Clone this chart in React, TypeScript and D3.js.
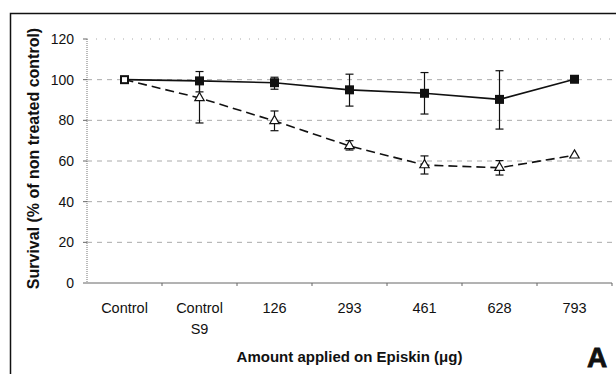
import React from "react";
import * as d3 from "d3";

const categories = ["Control", "Control\nS9", "126", "293", "461", "628", "793"];
const solidValues = [100, 99.4, 98.5, 95, 93.3, 90.3, 100.2];
const solidErrLow = [100, 94, 95.3, 87, 83.1, 75.7, 100.2];
const solidErrHigh = [100, 104, 101.2, 102.7, 103.5, 104.4, 100.2];
const dashedValues = [100, 91, 79.7, 67.4, 58, 56.7, 62.8];
const dashedErrLow = [100, 78.7, 74.9, 65.4, 53.6, 53.1, 62.8];
const dashedErrHigh = [100, 98, 84.6, 70, 62.5, 60.2, 62.8];
const yTicks = [0, 20, 40, 60, 80, 100, 120];

const W = 616, H = 374;
const left = 87, right = 612, top = 39, bottom = 283;
const FONT = "Liberation Sans, Arial, sans-serif";

export default function App() {
  const x = d3.scaleBand<string>().domain(categories).range([left, right]);
  const y = d3.scaleLinear().domain([0, 120]).range([bottom, top]);
  const cx = (i: number) => (x(categories[i]) as number) + x.bandwidth() / 2;
  const line = d3.line<number>().x((_, i) => cx(i)).y((d) => y(d));
  const tri = d3.symbol().type(d3.symbolTriangle).size(38)();
  const cap = 4;
  const same = (i: number) => Math.abs(solidValues[i] - dashedValues[i]) < 0.5;

  return (
    <svg width={W} height={H} style={{ position: "absolute", left: 0, top: 0, background: "#fff" }}>
      <rect x={10.5} y={13.5} width={640} height={400} fill="none" stroke="#111" strokeWidth={1.5} />
      {yTicks.filter((t) => t > 0).map((t) => (
        <line key={t} x1={left} x2={right} y1={y(t)} y2={y(t)} stroke="#aaa" strokeWidth={1}
          strokeDasharray={t === 120 ? "1,8" : "5,5"} />
      ))}
      <line x1={left} x2={left} y1={top} y2={bottom} stroke="#777" strokeWidth={1} strokeDasharray="1,1" />
      <line x1={left} x2={right} y1={bottom} y2={bottom} stroke="#666" strokeWidth={1} />
      {yTicks.map((t) => (
        <g key={t}>
          <line x1={left - 4} x2={left} y1={y(t)} y2={y(t)} stroke="#666" />
          <text x={74} y={y(t)} dy="0.36em" textAnchor="end" fontFamily={FONT} fontSize={14} fill="#111">{t}</text>
        </g>
      ))}
      {categories.map((c, i) => (
        <g key={c}>
          <line x1={(x(c) as number) + x.bandwidth()} x2={(x(c) as number) + x.bandwidth()} y1={bottom} y2={bottom + 3} stroke="#666" />
          {c.split("\n").map((s, j) => (
            <text key={j} x={cx(i)} y={313 + j * 21} textAnchor="middle" fontFamily={FONT} fontSize={14.5} fill="#111">{s}</text>
          ))}
        </g>
      ))}
      <text transform={`translate(39,158.5) rotate(-90)`} textAnchor="middle" fontFamily={FONT}
        fontSize={16} fontWeight="bold" fill="#111">Survival (% of non treated control)</text>
      <text x={349.5} y={362} textAnchor="middle" fontFamily={FONT} fontSize={15} fontWeight="bold" fill="#111">Amount applied on Episkin (μg)</text>
      <text x={597} y={367} textAnchor="middle" fontFamily={FONT} fontSize={28} fontWeight="bold" fill="#111" stroke="#111" strokeWidth={0.8}>A</text>

      {categories.map((c, i) => (
        <g key={"e" + i} stroke="#111" strokeWidth={1.2}>
          {solidErrHigh[i] !== solidErrLow[i] && (
            <>
              <line x1={cx(i)} x2={cx(i)} y1={y(solidErrHigh[i])} y2={y(solidErrLow[i])} />
              <line x1={cx(i) - cap} x2={cx(i) + cap} y1={y(solidErrHigh[i])} y2={y(solidErrHigh[i])} />
              <line x1={cx(i) - cap} x2={cx(i) + cap} y1={y(solidErrLow[i])} y2={y(solidErrLow[i])} />
            </>
          )}
          {dashedErrHigh[i] !== dashedErrLow[i] && (
            <>
              <line x1={cx(i)} x2={cx(i)} y1={y(dashedErrHigh[i])} y2={y(dashedErrLow[i])} />
              <line x1={cx(i) - cap} x2={cx(i) + cap} y1={y(dashedErrHigh[i])} y2={y(dashedErrHigh[i])} />
              <line x1={cx(i) - cap} x2={cx(i) + cap} y1={y(dashedErrLow[i])} y2={y(dashedErrLow[i])} />
            </>
          )}
        </g>
      ))}
      <path d={line(dashedValues) || ""} fill="none" stroke="#111" strokeWidth={1.6} strokeDasharray="9,5" />
      <path d={line(solidValues) || ""} fill="none" stroke="#111" strokeWidth={1.6} />
      {dashedValues.map((v, i) => !same(i) && (
        <path key={"t" + i} d={tri || ""} transform={`translate(${cx(i)},${y(v)})`} fill="#fff" stroke="#111" strokeWidth={1.2} />
      ))}
      {solidValues.map((v, i) => (
        same(i)
          ? <rect key={"s" + i} x={cx(i) - 3.5} y={y(v) - 3.5} width={7} height={7} fill="#fff" stroke="#111" strokeWidth={2} />
          : <rect key={"s" + i} x={cx(i) - 4.5} y={y(v) - 4.5} width={9} height={9} fill="#111" />
      ))}
    </svg>
  );
}
